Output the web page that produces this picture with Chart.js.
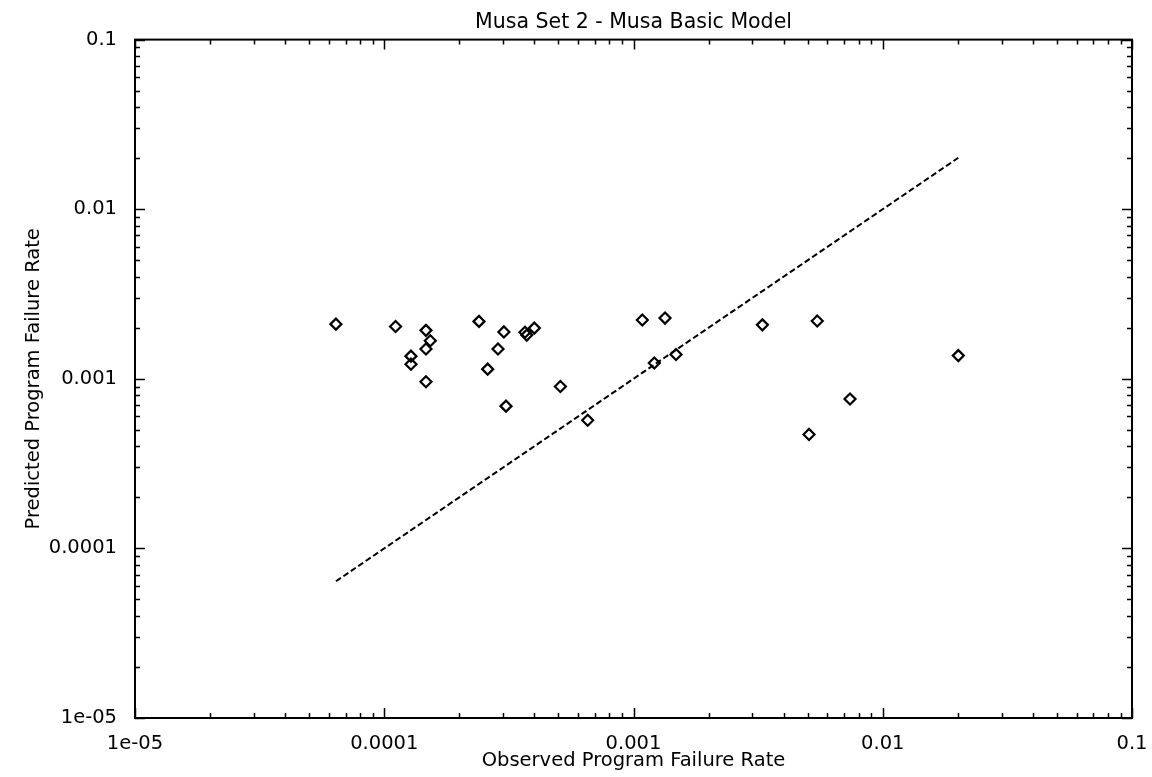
<!DOCTYPE html>
<html>
<head>
<meta charset="utf-8">
<title>Musa Set 2 - Musa Basic Model</title>
<script src="https://cdn.jsdelivr.net/npm/chart.js@4/dist/chart.umd.min.js"></script>
<style>
  html, body { margin: 0; padding: 0; background: #fff; }
  #wrap { width: 1152px; height: 777px; }
</style>
</head>
<body>
<div id="wrap"><canvas id="musaChart" width="1152" height="777"></canvas></div>
<script>
// observed vs predicted program failure rate
const observedRate = [
  6.40e-5, 1.11e-4, 1.47e-4, 1.53e-4, 1.47e-4, 1.28e-4, 1.28e-4, 1.47e-4,
  2.40e-4, 3.02e-4, 3.67e-4, 3.73e-4, 4.00e-4, 2.86e-4, 2.60e-4, 3.08e-4,
  5.09e-4, 6.55e-4, 1.085e-3, 1.338e-3, 1.481e-3, 1.212e-3, 3.29e-3, 5.46e-3,
  7.39e-3, 5.06e-3, 0.0201
];
const predictedRate = [
  2.10e-3, 2.035e-3, 1.93e-3, 1.675e-3, 1.50e-3, 1.36e-3, 1.22e-3, 9.6e-4,
  2.18e-3, 1.89e-3, 1.88e-3, 1.81e-3, 1.99e-3, 1.50e-3, 1.14e-3, 6.9e-4,
  9.0e-4, 5.7e-4, 2.22e-3, 2.28e-3, 1.39e-3, 1.24e-3, 2.08e-3, 2.19e-3,
  7.6e-4, 4.7e-4, 1.37e-3
];

// reference line: predicted = observed
const refLineObserved = [6.4e-5, 0.0201];
const refLinePredicted = [6.4e-5, 0.0201];

// decade ticks and their labels, minor ticks at 2..9 of each decade
const majorTicks = [1e-5, 1e-4, 1e-3, 1e-2, 1e-1];
const tickLabels = ['1e-05', '0.0001', '0.001', '0.01', '0.1'];
const minorSteps = [2, 3, 4, 5, 6, 7, 8, 9];

const fontFamily = '"DejaVu Sans", "Liberation Sans", Arial, sans-serif';

function logTicks() {
  const list = [];
  majorTicks.forEach((m, i) => {
    list.push({ value: m, major: true });
    if (i < majorTicks.length - 1) {
      minorSteps.forEach(s => list.push({ value: +(m * s).toPrecision(3), major: false }));
    }
  });
  return list;
}

function tickLabel(value) {
  const i = majorTicks.findIndex(m => Math.abs(m - value) / m < 1e-6);
  return i >= 0 ? tickLabels[i] : '';
}

// frame with inward tick marks on all four sides
const frameTicks = {
  id: 'frameTicks',
  afterDatasetsDraw(chart) {
    const { ctx, chartArea: a, scales: { x, y } } = chart;
    ctx.save();
    ctx.strokeStyle = '#000';
    ctx.lineWidth = 2;
    ctx.strokeRect(a.left, a.top, a.right - a.left, a.bottom - a.top);
    ctx.lineWidth = 1.5;
    ctx.beginPath();
    x.ticks.forEach(t => {
      const px = Math.round(x.getPixelForValue(t.value)) + 0.5;
      const len = t.major ? 10 : 5;
      ctx.moveTo(px, a.bottom);
      ctx.lineTo(px, a.bottom - len);
      ctx.moveTo(px, a.top);
      ctx.lineTo(px, a.top + len);
    });
    y.ticks.forEach(t => {
      const py = Math.round(y.getPixelForValue(t.value)) + 0.5;
      const len = t.major ? 10 : 5;
      ctx.moveTo(a.left, py);
      ctx.lineTo(a.left + len, py);
      ctx.moveTo(a.right, py);
      ctx.lineTo(a.right - len, py);
    });
    ctx.stroke();
    ctx.restore();
  }
};

const points = observedRate.map((v, i) => ({ x: v, y: predictedRate[i] }));
const refLine = refLineObserved.map((v, i) => ({ x: v, y: refLinePredicted[i] }));

const ctx = document.getElementById('musaChart').getContext('2d');
new Chart(ctx, {
  type: 'scatter',
  data: {
    datasets: [
      {
        label: 'Predicted vs observed',
        data: points,
        pointStyle: 'rectRot',
        pointRadius: 5.5,
        pointBorderWidth: 2.2,
        pointBorderColor: '#000',
        pointBackgroundColor: 'rgba(255,255,255,0)',
        showLine: false
      },
      {
        label: 'Predicted = observed',
        data: refLine,
        showLine: true,
        borderColor: '#000',
        borderWidth: 2,
        borderDash: [6, 3],
        pointRadius: 0,
        fill: false
      }
    ]
  },
  options: {
    responsive: false,
    animation: false,
    devicePixelRatio: 1,
    layout: {
      padding: { left: 0, right: 20, top: 0, bottom: 0 }
    },
    plugins: {
      legend: { display: false },
      tooltip: { enabled: false },
      title: {
        display: true,
        fullSize: false,
        text: 'Musa Set 2 - Musa Basic Model',
        color: '#000',
        font: { family: fontFamily, size: 20.5, weight: 'normal', lineHeight: 1.2 },
        padding: { top: 10, bottom: 5 }
      }
    },
    scales: {
      x: {
        type: 'logarithmic',
        min: 1e-5,
        max: 0.1,
        afterBuildTicks: scale => { scale.ticks = logTicks(); },
        afterFit: scale => {
          scale.height = 59;
          scale.paddingLeft = 0;
          scale.paddingRight = 0;
        },
        grid: { display: false, drawTicks: false },
        border: { display: false },
        ticks: {
          autoSkip: false,
          maxRotation: 0,
          padding: 14,
          color: '#000',
          font: { family: fontFamily, size: 19.5 },
          callback: value => tickLabel(value)
        },
        title: {
          display: true,
          text: 'Observed Program Failure Rate',
          color: '#000',
          font: { family: fontFamily, size: 19.5, lineHeight: 1.2 },
          padding: { top: 0, bottom: 4 }
        }
      },
      y: {
        type: 'logarithmic',
        min: 1e-5,
        max: 0.1,
        afterBuildTicks: scale => { scale.ticks = logTicks(); },
        afterFit: scale => { scale.width = 135; },
        grid: { display: false, drawTicks: false },
        border: { display: false },
        ticks: {
          autoSkip: false,
          padding: 18,
          color: '#000',
          font: { family: fontFamily, size: 19.5 },
          callback: value => tickLabel(value)
        },
        title: {
          display: true,
          text: 'Predicted Program Failure Rate',
          color: '#000',
          font: { family: fontFamily, size: 19.5, lineHeight: 1.2 },
          padding: { top: 22, bottom: 0 }
        }
      }
    }
  },
  plugins: [frameTicks]
});
</script>
</body>
</html>
